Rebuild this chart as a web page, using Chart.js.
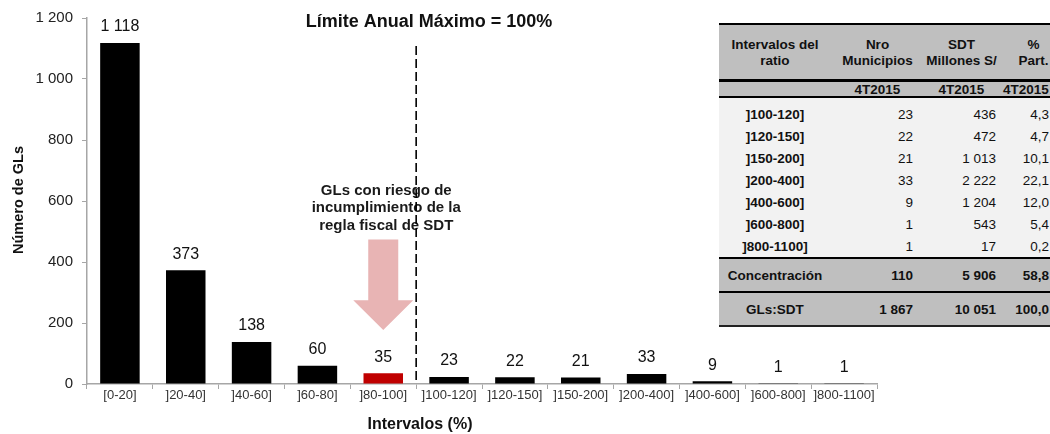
<!DOCTYPE html>
<html>
<head>
<meta charset="utf-8">
<script src="https://cdn.jsdelivr.net/npm/chart.js@4"></script>
<style>
  html, body { margin: 0; padding: 0; background: #fff; overflow: hidden; }
  #wrap { position: relative; width: 1050px; height: 434px; overflow: hidden; font-family: "Liberation Sans", Arial, sans-serif; }
  canvas { position: absolute; left: 0; top: 0; }
  #tbl { position: absolute; left: 719px; top: 23px; width: 345px; font-size: 13.5px; color: #111; }
  .row { display: flex; align-items: center; }
  .c1 { width: 116px; box-sizing: border-box; text-align: center; padding-right: 4px; }
  .c2 { width: 85px; box-sizing: border-box; }
  .c3 { width: 83px; box-sizing: border-box; }
  .c4 { width: 61px; box-sizing: border-box; }
  .hd { background: #bfbfbf; font-weight: bold; text-align: center; }
  .r { text-align: right; padding-right: 7px; }
  .b { font-weight: bold; }
  .ln2 { border-top: 2px solid #000; }
  .ln3 { border-top: 3px solid #000; }
</style>
</head>
<body>
<div id="wrap">
  <canvas id="c" width="1050" height="434"></canvas>
  <div id="tbl"></div>
</div>
<script>
const categories = ['[0-20]', ']20-40]', ']40-60]', ']60-80]', ']80-100]', ']100-120]', ']120-150]', ']150-200]', ']200-400]', ']400-600]', ']600-800]', ']800-1100]'];
const values = [1118, 373, 138, 60, 35, 23, 22, 21, 33, 9, 1, 1];
const highlightIndex = 4;
const yTicks = [0, 200, 400, 600, 800, 1000, 1200];

const tableHeaders = [['Intervalos del', 'ratio'], ['Nro', 'Municipios'], ['SDT', 'Millones S/'], ['%', 'Part.']];
const tablePeriod = '4T2015';
const tableIntervals = [']100-120]', ']120-150]', ']150-200]', ']200-400]', ']400-600]', ']600-800]', ']800-1100]'];
const tableNro = [23, 22, 21, 33, 9, 1, 1];
const tableSdt = [436, 472, 1013, 2222, 1204, 543, 17];
const tablePart = [4.3, 4.7, 10.1, 22.1, 12.0, 5.4, 0.2];
const tableTotalLabels = ['Concentración', 'GLs:SDT'];
const tableTotalNro = [110, 1867];
const tableTotalSdt = [5906, 10051];
const tableTotalPart = [58.8, 100.0];

function fmtInt(v) { return String(Math.round(v)).replace(/\B(?=(\d{3})+(?!\d))/g, ' '); }
function fmtDec(v) { return v.toFixed(1).replace('.', ','); }

// ---- table (HTML) ----
(function buildTable() {
  const t = document.getElementById('tbl');
  let h = '';
  h += '<div class="ln2"></div>';
  h += '<div class="row hd" style="height:54px;line-height:16px;padding-top:2px;box-sizing:border-box;">';
  const cls = ['c1', 'c2', 'c3', 'c4'];
  tableHeaders.forEach((hh, i) => { h += '<div class="' + cls[i] + '">' + hh[0] + '<br>' + hh[1] + '</div>'; });
  h += '</div>';
  h += '<div class="ln3"></div>';
  h += '<div class="row hd" style="height:14px;">';
  h += '<div class="c1"></div><div class="c2">' + tablePeriod + '</div><div class="c3">' + tablePeriod + '</div><div class="c4" style="text-align:left">' + tablePeriod + '</div>';
  h += '</div>';
  h += '<div class="ln2"></div>';
  h += '<div style="background:#f2f2f2;padding-top:5px;">';
  tableIntervals.forEach((lab, i) => {
    h += '<div class="row" style="height:22px;">';
    h += '<div class="c1 b">' + lab + '</div>';
    h += '<div class="c2 r">' + fmtInt(tableNro[i]) + '</div>';
    h += '<div class="c3 r">' + fmtInt(tableSdt[i]) + '</div>';
    h += '<div class="c4 r" style="padding-right:15px;">' + fmtDec(tablePart[i]) + '</div>';
    h += '</div>';
  });
  h += '</div>';
  tableTotalLabels.forEach((lab, i) => {
    h += '<div class="ln2"></div>';
    h += '<div class="row b" style="height:32px;background:#bfbfbf;">';
    h += '<div class="c1">' + lab + '</div>';
    h += '<div class="c2 r">' + fmtInt(tableTotalNro[i]) + '</div>';
    h += '<div class="c3 r">' + fmtInt(tableTotalSdt[i]) + '</div>';
    h += '<div class="c4 r" style="padding-right:15px;">' + fmtDec(tableTotalPart[i]) + '</div>';
    h += '</div>';
  });
  h += '<div style="border-top:2px solid #222;"></div>';
  t.innerHTML = h;
})();

const FONT = '"Liberation Sans", Arial, sans-serif';

const overlayPlugin = {
  id: 'overlay',
  afterDatasetsDraw(chart) {
    const ctx = chart.ctx;
    const xs = chart.scales.x, ys = chart.scales.y;
    const meta = chart.getDatasetMeta(0);
    ctx.save();
    // value labels
    ctx.fillStyle = '#111';
    ctx.font = '16px ' + FONT;
    ctx.textAlign = 'center';
    ctx.textBaseline = 'middle';
    meta.data.forEach((bar, i) => {
      ctx.fillText(fmtInt(values[i]), bar.x, bar.y - 16);
    });
    // subtitle
    ctx.font = 'bold 18px ' + FONT;
    ctx.fillText('Límite Anual Máximo = 100%', 429, 22);
    // axis titles
    ctx.font = 'bold 16px ' + FONT;
    ctx.fillText('Intervalos (%)', 420, 425);
    ctx.save();
    ctx.translate(19, 200);
    ctx.rotate(-Math.PI / 2);
    ctx.font = 'bold 14.5px ' + FONT;
    ctx.fillText('Número de GLs', 0, 0);
    ctx.restore();
    // arrow annotation
    const cx = xs.getPixelForValue(highlightIndex);
    const yShaftTop = ys.getPixelForValue(474);
    const yHeadBase = ys.getPixelForValue(275);
    const yTip = ys.getPixelForValue(177);
    ctx.fillStyle = '#e8b4b4';
    ctx.beginPath();
    ctx.moveTo(cx - 15, yShaftTop);
    ctx.lineTo(cx + 15, yShaftTop);
    ctx.lineTo(cx + 15, yHeadBase);
    ctx.lineTo(cx + 30, yHeadBase);
    ctx.lineTo(cx, yTip);
    ctx.lineTo(cx - 30, yHeadBase);
    ctx.lineTo(cx - 15, yHeadBase);
    ctx.closePath();
    ctx.fill();
    ctx.fillStyle = '#1a1a1a';
    ctx.font = 'bold 15px ' + FONT;
    ctx.fillText('GLs con riesgo de', cx + 3, ys.getPixelForValue(634));
    ctx.fillText('incumplimiento de la', cx + 3, ys.getPixelForValue(576));
    ctx.fillText('regla fiscal de SDT', cx + 3, ys.getPixelForValue(519));
    // dashed limit line
    const lx = (xs.getPixelForValue(highlightIndex) + xs.getPixelForValue(highlightIndex + 1)) / 2;
    ctx.strokeStyle = '#000';
    ctx.lineWidth = 1.6;
    ctx.setLineDash([9, 4]);
    ctx.beginPath();
    ctx.moveTo(lx, 46);
    ctx.lineTo(lx, ys.bottom);
    ctx.stroke();
    ctx.restore();
  }
};

new Chart(document.getElementById('c'), {
  type: 'bar',
  data: {
    labels: categories,
    datasets: [{
      data: values,
      backgroundColor: values.map((v, i) => i === highlightIndex ? '#c00000' : '#000000'),
      borderWidth: 0,
      categoryPercentage: 1.0,
      barPercentage: 0.6
    }]
  },
  options: {
    responsive: false,
    animation: false,
    devicePixelRatio: 1,
    layout: { padding: { left: 0, right: 173, top: 17, bottom: 0 } },
    plugins: { legend: { display: false }, tooltip: { enabled: false }, title: { display: false } },
    scales: {
      x: {
        grid: { display: true, drawOnChartArea: false, drawTicks: true, tickLength: 5, color: '#a6a6a6', offset: true },
        border: { color: '#a6a6a6', width: 1.5 },
        ticks: { color: '#333', font: { family: FONT, size: 13 }, padding: -1, maxRotation: 0, autoSkip: false },
        afterFit(s) { s.height = 50; }
      },
      y: {
        min: 0, max: 1200,
        afterBuildTicks(s) { s.ticks = yTicks.map(v => ({ value: v })); },
        grid: { display: true, drawOnChartArea: false, drawTicks: true, tickLength: 5, color: '#a6a6a6' },
        border: { color: '#a6a6a6', width: 1.5 },
        ticks: { color: '#222', font: { family: FONT, size: 15 }, padding: 9, callback: v => fmtInt(v) },
        afterFit(s) { s.width = 87; }
      }
    }
  },
  plugins: [overlayPlugin]
});
</script>
</body>
</html>
